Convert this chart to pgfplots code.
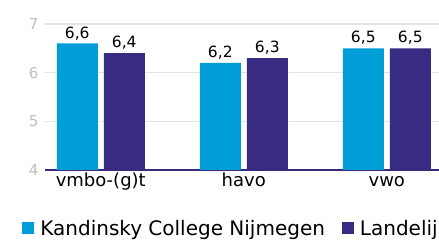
\documentclass[border=0pt]{standalone}
\usepackage{pgfplots}
\pgfplotsset{compat=1.18}
\usepackage{fontspec}
\setmainfont{DejaVu Sans}
\definecolor{cyanbar}{RGB}{0,158,216}
\definecolor{purplebar}{RGB}{56,43,130}
\definecolor{gridgrey}{RGB}{228,228,228}
\definecolor{tickgrey}{RGB}{190,190,190}
\begin{document}
\begin{tikzpicture}
\begin{axis}[
  scale only axis,
  width=394pt, height=146pt,
  at={(0pt,0pt)}, anchor=south west,
  xmin=-0.39, xmax=2.365,
  ymin=4, ymax=7,
  ytick={4,5,6,7},
  xtick={0,1,2},
  xticklabels={vmbo-(g)t, havo, vwo},
  ybar=6pt, bar width=41pt,
  ymajorgrids, grid style={gridgrey, line width=1.5pt},
  axis x line*=bottom, axis y line*=left,
  y axis line style={draw=none},
  x axis line style={purplebar, line width=2pt, -},
  major tick length=0pt,
  yticklabel style={tickgrey, font=\fontsize{15}{17}\selectfont, xshift=-3pt},
  xticklabel style={black, font=\fontsize{18}{20}\selectfont, text height=13.5pt, text depth=4pt, inner sep=3pt},
  /pgf/number format/assume math mode=true,
  nodes near coords,
  nodes near coords style={black, font=\fontsize{15.5}{17}\selectfont,
    /pgf/number format/.cd, fixed, fixed zerofill, precision=1, use comma},
  legend columns=2,
  legend style={draw=none, at={(-0.058,-0.40)}, anchor=west,
    font=\fontsize{20}{22}\selectfont, inner sep=0pt,
    /tikz/every even column/.append style={column sep=15pt},
    /tikz/every odd column/.append style={column sep=4pt}},
  legend image code/.code={\fill[#1] (0pt,-6pt) rectangle (12pt,6pt);},
]
\addplot[fill=cyanbar, draw=none] coordinates {(0,6.6) (1,6.2) (2,6.5)};
\addplot[fill=purplebar, draw=none] coordinates {(0,6.4) (1,6.3) (2,6.5)};
\legend{Kandinsky College Nijmegen, Landelijk}
\end{axis}
\pgfresetboundingbox
\path[use as bounding box] (-45pt,-70pt) rectangle (394pt,170pt);
\end{tikzpicture}
\end{document}
